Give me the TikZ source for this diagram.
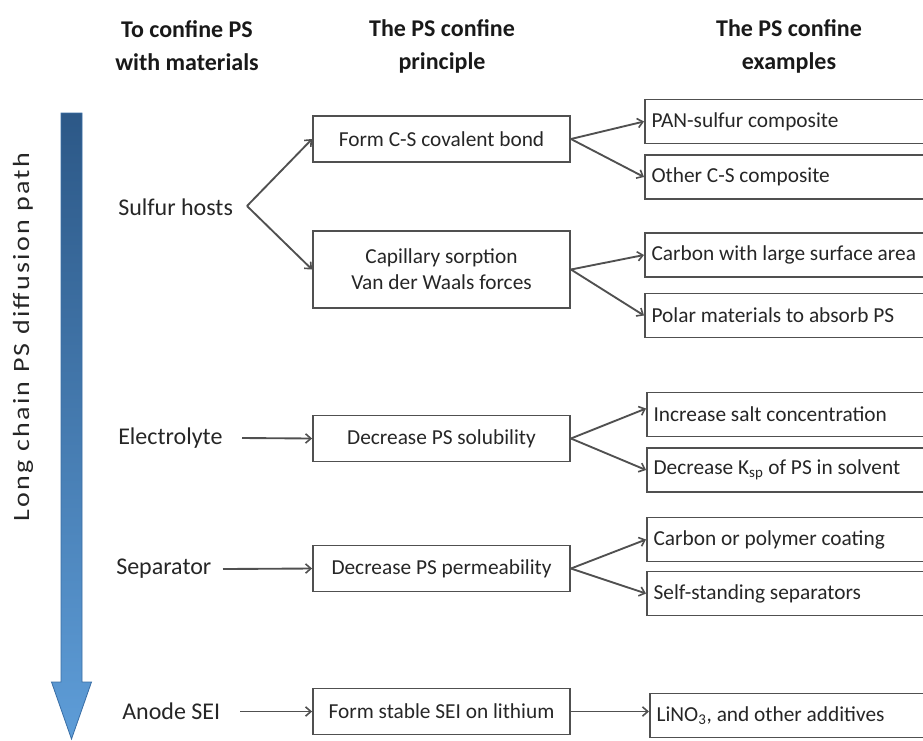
\documentclass[tikz,border=0pt]{standalone}
\usepackage{fontspec}
\setmainfont{Carlito}
\newfontfamily\widefont[LetterSpace=8]{Carlito}
\usetikzlibrary{arrows.meta,calc}
\definecolor{txt}{HTML}{262626}
\definecolor{ln}{HTML}{505050}
\definecolor{bltop}{HTML}{2C5887}
\definecolor{blbot}{HTML}{5E9DD8}
\definecolor{blbd}{HTML}{3A6EA5}
\newcommand{\extext}[1]{\makebox[205pt][l]{#1}}
\begin{document}
\begin{tikzpicture}[x=0.75pt,y=-0.75pt,
  arr/.style={draw=ln, line width=1.4pt, -{Straight Barb[length=4pt,width=7pt,line width=1.2pt]}},
  pbox/.style={draw=ln, line width=1.4pt, fill=white, minimum width=192.75pt, minimum height=34.5pt, inner sep=0pt, align=center, text=txt, font=\fontsize{16}{19.5}\selectfont},
  ebox/.style={draw=ln, line width=1.4pt, anchor=west, inner xsep=5pt, inner ysep=0pt, minimum height=33pt, text=txt, font=\fontsize{16}{19}\selectfont},
  lab/.style={anchor=west, text=txt, font=\fontsize{18}{21}\selectfont, inner sep=0pt},
  head/.style={align=center, text=black!90, font=\bfseries\fontsize{18}{24.75}\selectfont}]
\useasboundingbox (0,0) rectangle (923,740);
\clip (0,0) rectangle (923,740);

% gradient arrow
\shade[top color=bltop, bottom color=blbot, draw=blbd, line width=0.6pt]
  (61,113) -- (82,113) -- (82,682) -- (91.5,682) -- (71.5,739) -- (51.5,682) -- (61,682) -- cycle;
\node[rotate=90, text=txt, inner sep=0pt] (path) at (23,337)
  {\scalebox{1.2}[1]{\widefont\fontsize{17.5}{20}\selectfont Long chain PS diffusion path}};

% headers
\node[head] (h1) at (187,46) {To confine PS\\with materials};
\node[head] (h2) at (442,46) {The PS confine\\principle};
\node[head] (h3) at (789,46) {The PS confine\\examples};

% left labels
\node[lab] (sh) at (118,207) {Sulfur hosts};
\node[lab] (el) at (118,438) {Electrolyte};
\node[lab] (sp) at (116,569) {Separator};
\node[lab] (an) at (122,711) {Anode SEI};

\coordinate (shv) at (247,206);
\coordinate (elA) at (242,438);
\coordinate (spA) at (223,569);
\coordinate (anA) at (240,711.5);

% principle boxes
\node[pbox] (fcs) at (441.5,139) {Form C-S covalent bond};
\node[pbox, minimum height=57.75pt] (cap) at (441.5,269.5) {Capillary sorption\\Van der Waals forces};
\node[pbox] (dsol) at (441.5,438.5) {Decrease PS solubility};
\node[pbox] (perm) at (441.5,568.5) {Decrease PS permeability};
\node[pbox] (fsei) at (441.5,711.5) {Form stable SEI on lithium};

% example boxes
\node[ebox] (pan) at (644,121.5) {\extext{PAN-sulfur composite}};
\node[ebox] (oth) at (644,177) {\extext{Other C-S composite}};
\node[ebox] (carb) at (644,255) {\extext{Carbon with large surface area}};
\node[ebox] (pol) at (644,315.5) {\extext{Polar materials to absorb PS}};
\node[ebox] (inc) at (646,414.5) {\extext{Increase salt concentration}};
\node[ebox] (ksp) at (646,470) {\extext{Decrease K\textsubscript{sp} of PS in solvent}};
\node[ebox] (cpc) at (646,539.5) {\extext{Carbon or polymer coating}};
\node[ebox] (ssp) at (646,593.5) {\extext{Self-standing separators}};
\node[ebox] (lino) at (649,715.5) {\extext{LiNO\textsubscript{3}, and other additives}};

% connectors
\draw[arr] (shv) -- (fcs.west);
\draw[arr] (shv) -- (cap.west);
\draw[arr] (elA) -- (dsol.west);
\draw[arr] (spA) -- (perm.west);
\draw[arr] (anA) -- (fsei.west);

\draw[arr] (fcs.east) -- (pan.west);
\draw[arr] (fcs.east) -- (oth.west);
\draw[arr] (cap.east) -- (carb.west);
\draw[arr] (cap.east) -- (pol.west);
\draw[arr] (dsol.east) -- ([yshift=4.5pt]inc.west);
\draw[arr] (dsol.east) -- (ksp.west);
\draw[arr] (perm.east) -- (cpc.west);
\draw[arr] (perm.east) -- (ssp.west);
\draw[arr] (fsei.east) -- (fsei.east -| lino.west);
\end{tikzpicture}
\end{document}
